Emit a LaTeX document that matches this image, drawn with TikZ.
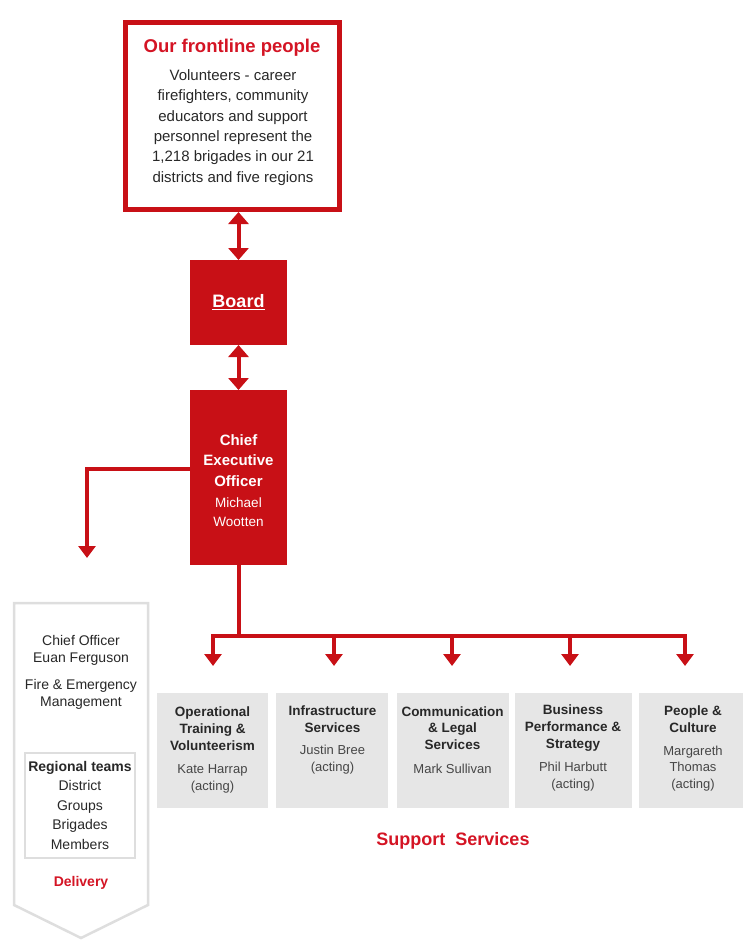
\documentclass[tikz,border=0pt]{standalone}
\usepackage{fontspec}
\setmainfont{Liberation Sans}
\usetikzlibrary{arrows.meta}
\definecolor{fred}{RGB}{200,16,22}
\definecolor{tred}{RGB}{212,20,36}
\definecolor{txt}{RGB}{40,40,40}
\definecolor{ntxt}{RGB}{70,70,70}
\definecolor{sbox}{RGB}{230,230,230}
\definecolor{frame}{RGB}{222,222,222}
\tikzset{
  conn/.style={draw=fred, line width=4pt},
  arr/.style={conn, -{Triangle[width=17pt,length=12pt]}},
  dbl/.style={conn, {Triangle[width=20pt,length=12pt]}-{Triangle[width=20pt,length=12pt]}},
  redbox/.style={fill=fred, inner sep=0pt, outer sep=0pt},
  svcbox/.style={fill=sbox, inner sep=0pt, outer sep=0pt, minimum height=115pt},
  svctitle/.style={font=\fontsize{13.5}{16.7}\selectfont\bfseries, text=txt, align=center, inner sep=0pt},
  svcname/.style={font=\fontsize{13}{16.8}\selectfont, text=ntxt, align=center, inner sep=0pt},
  paneltext/.style={font=\fontsize{14}{16.5}\selectfont, text=txt, align=center, inner sep=0pt}
}
\begin{document}
\begin{tikzpicture}[x=1pt,y=-1pt]
\useasboundingbox (0,0) rectangle (742,940);

% frontline box
\node[draw=fred, line width=5pt, minimum width=214pt, minimum height=187pt, inner sep=0pt] (front) at (232.5,116) {};
\node[font=\fontsize{18.5}{20}\selectfont\bfseries, text=tred, inner sep=0pt] (fronttitle) at (232,48) {Our frontline people};
\node[font=\fontsize{15}{20.3}\selectfont, text=txt, align=center, inner sep=0pt] (frontbody) at (233,127.5)
  {Volunteers - career\\firefighters, community\\educators and support\\personnel represent the\\1,218 brigades in our 21\\districts and five regions};

% board
\node[redbox, minimum width=97pt, minimum height=85pt] (board) at (238.5,302.5) {};
\node[font=\fontsize{18}{20}\selectfont\bfseries, text=white, inner sep=0pt] (boardtext) at (238.5,302) {\underline{Board}};

% CEO
\node[redbox, minimum width=97pt, minimum height=175pt] (ceo) at (238.5,477.5) {};
\node[font=\fontsize{15}{20.5}\selectfont\bfseries, text=white, align=center, inner sep=0pt] (ceotitle) at (238.5,460.5) {Chief\\Executive\\Officer};
\node[font=\fontsize{13.5}{19}\selectfont, text=white, align=center, inner sep=0pt] (ceoname) at (238.5,512.5) {Michael\\Wootten};

\draw[dbl] (board.north |- front.south) -- (board.north);
\draw[dbl] (board.south) -- (ceo.north);

% left connector
\coordinate (lefttip) at (87,558);
\draw[arr] ([yshift=8.5pt]ceo.west) -| (lefttip);

% left panel (chevron)
\path[fill=white, draw=frame, line width=2.5pt, line join=miter] (14,603) -- (148,603) -- (148,905) -- (81,938) -- (14,905) -- cycle;
\node[paneltext] (chief) at (81,650.5) {Chief Officer\\Euan Ferguson};
\node[paneltext] (fem) at (81,694.5) {Fire \& Emergency\\Management};
\node[draw=frame, line width=1.5pt, minimum width=110pt, minimum height=105pt, inner sep=0pt] (regbox) at (80,805.5) {};
\node[font=\fontsize{14}{19.5}\selectfont, text=txt, align=center, inner sep=0pt] (regtext) at (80,805) {\textbf{Regional teams}\\District\\Groups\\Brigades\\Members};
\node[font=\fontsize{14}{16}\selectfont\bfseries, text=tred, inner sep=0pt] (delivery) at (81,883) {Delivery};

% service boxes
\node[svcbox, minimum width=111pt] (s1) at (212.5,750.5) {};
\node[svcbox, minimum width=112pt] (s2) at (332,750.5) {};
\node[svcbox, minimum width=112pt] (s3) at (453,750.5) {};
\node[svcbox, minimum width=117pt] (s4) at (573.5,750.5) {};
\node[svcbox, minimum width=104pt] (s5) at (691,750.5) {};

\node[svctitle] (s1t) at (212.5,728.5) {Operational\\Training \&\\Volunteerism};
\node[svcname] (s1n) at (212.5,778.5) {Kate Harrap\\(acting)};
\node[svctitle] (s2t) at (332.5,719.5) {Infrastructure\\Services};
\node[svcname] (s2n) at (332.5,760) {Justin Bree\\(acting)};
\node[svctitle] (s3t) at (452.5,728) {Communication\\\& Legal\\Services};
\node[svcname] (s3n) at (452.5,769) {Mark Sullivan};
\node[svctitle] (s4t) at (573,728) {Business\\Performance \&\\Strategy};
\node[svcname] (s4n) at (573,777) {Phil Harbutt\\(acting)};
\node[svctitle] (s5t) at (693,719.5) {People \&\\Culture};
\node[svcname] (s5n) at (693,768.5) {Margareth\\Thomas\\(acting)};

% bus
\coordinate (bus) at (238.5,636);
\coordinate (b1) at (213,636); \coordinate (t1) at (213,666);
\coordinate (b2) at (334,636); \coordinate (t2) at (334,666);
\coordinate (b3) at (452,636); \coordinate (t3) at (452,666);
\coordinate (b4) at (570,636); \coordinate (t4) at (570,666);
\coordinate (b5) at (685,636); \coordinate (t5) at (685,666);
\draw[conn] (ceo.south) -- (bus);
\draw[conn, {Triangle[width=17pt,length=12pt]}-{Triangle[width=17pt,length=12pt]}, line join=miter] (t1) -- (b1) -- (b5) -- (t5);
\draw[arr] (b2) -- (t2);
\draw[arr] (b3) -- (t3);
\draw[arr] (b4) -- (t4);

\node[font=\fontsize{18}{20}\selectfont\bfseries, text=tred, inner sep=0pt] (support) at (453,841) {Support~ Services};
\end{tikzpicture}
\end{document}
